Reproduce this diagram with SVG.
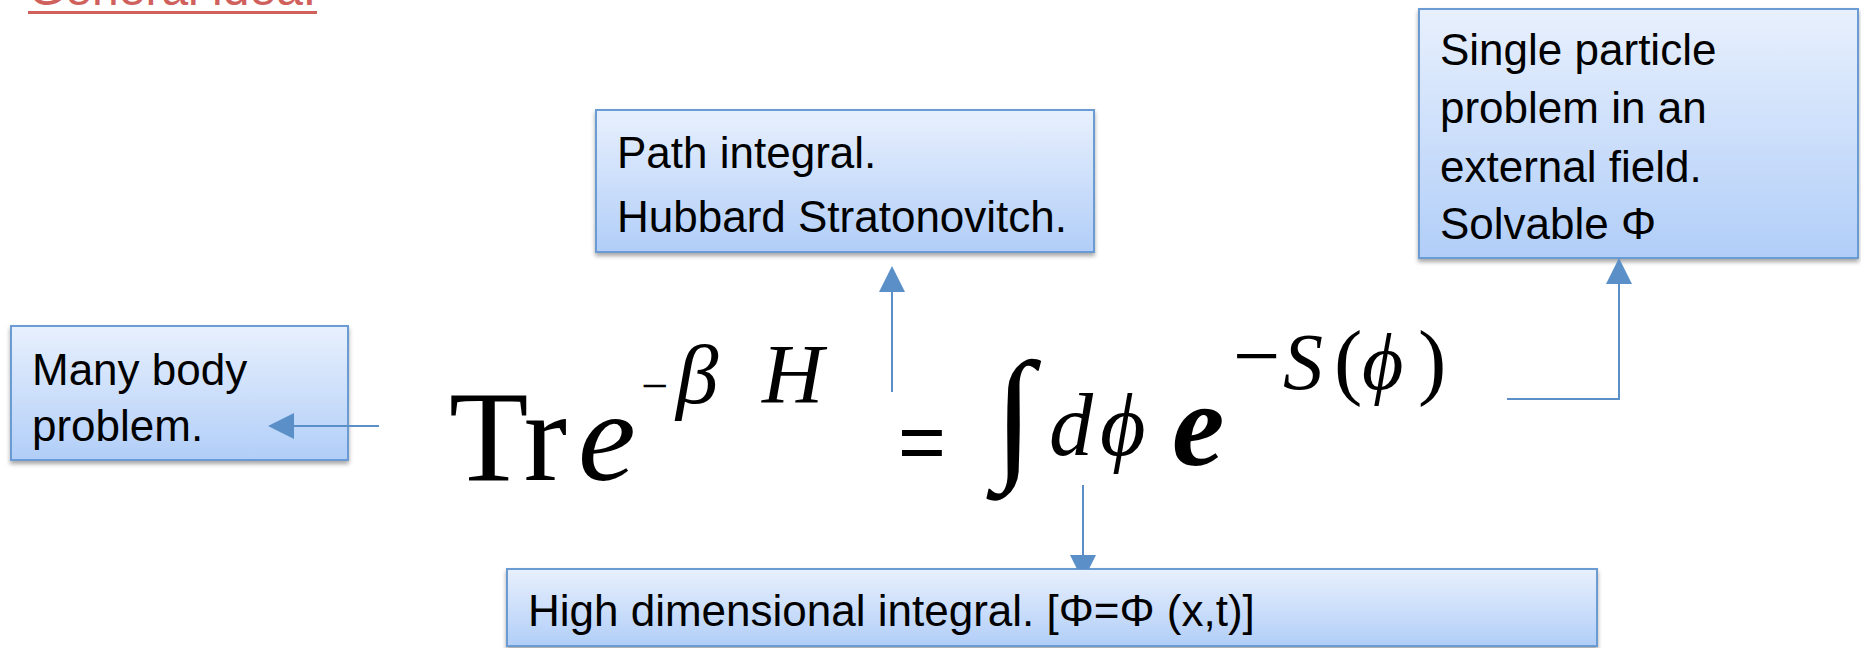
<svg xmlns="http://www.w3.org/2000/svg" width="1861" height="648" viewBox="0 0 1861 648">
<defs>
<linearGradient id="boxfill" x1="0" y1="0" x2="0" y2="1">
<stop offset="0" stop-color="#e8f0fd"/>
<stop offset="1" stop-color="#b1cef8"/>
</linearGradient>
<filter id="shadow" x="-5%" y="-10%" width="110%" height="130%">
<feDropShadow dx="0" dy="3" stdDeviation="2" flood-color="#000" flood-opacity="0.35"/>
</filter>
<marker id="head" viewBox="0 0 26 26" refX="0" refY="13" markerWidth="26" markerHeight="26" markerUnits="userSpaceOnUse" orient="auto">
<path d="M0,0 L26,13 L0,26 z" fill="#5b8fc8"/>
</marker>
<marker id="headcut" viewBox="0 0 26 26" refX="0" refY="13" markerWidth="26" markerHeight="26" markerUnits="userSpaceOnUse" orient="auto">
<path d="M0,0 L14,7 L14,19 L0,26 z" fill="#5b8fc8"/>
</marker>
</defs>
<style>
.box{fill:url(#boxfill);stroke:#6b9bd2;stroke-width:2;filter:url(#shadow)}
.lbl{font-family:"Liberation Sans",Arial,sans-serif;font-size:44px;fill:#000}
.conn{fill:none;stroke:#5b8fc8;stroke-width:2;marker-end:url(#head)}
.m{font-family:"Liberation Serif","Times New Roman",serif;fill:#000}
.i{font-style:italic}
</style>
<rect width="1861" height="648" fill="#fff"/>

<g id="title">
<text x="28" y="5" font-family="'Liberation Sans',Arial,sans-serif" font-size="48" fill="#d0605c">General idea:</text>
<rect x="28" y="11" width="289" height="3" fill="#d0605c"/>
</g>

<g id="formula">
<text class="m" x="449" y="480" font-size="130">Tr</text>
<text class="m i" x="578" y="480" font-size="130">e</text>
<text class="m" x="641" y="402" font-size="48">−</text>
<text class="m i" x="676" y="403" font-size="85">β</text>
<text class="m i" x="762" y="403" font-size="85">H</text>
<text x="898" y="470" font-size="82" font-family="'Liberation Sans',Arial,sans-serif">=</text>
<text class="m" x="994" y="462" font-size="145">∫</text>
<text class="m i" x="1049" y="455" font-size="88">d</text>
<text class="m i" x="1100" y="455" font-size="88">ϕ</text>
<text class="m i" x="1172" y="465" font-size="118" font-weight="bold">e</text>
<text class="m" x="1233" y="384" font-size="84">−</text>
<text class="m i" x="1283" y="389" font-size="80">S</text>
<text class="m" x="1334" y="389" font-size="85">(</text>
<text class="m i" x="1362" y="389" font-size="80">ϕ</text>
<text class="m" x="1418" y="389" font-size="85">)</text>
</g>

<g id="node-many-body">
<rect class="box" x="11" y="326" width="337" height="134"/>
<text class="lbl" x="32" y="385">Many body</text>
<text class="lbl" x="32" y="441">problem.</text>
</g>

<g id="node-path-integral">
<rect class="box" x="596" y="110" width="498" height="142"/>
<text class="lbl" x="617" y="168">Path integral.</text>
<text class="lbl" x="617" y="232">Hubbard Stratonovitch.</text>
</g>

<g id="node-single-particle">
<rect class="box" x="1419" y="9" width="439" height="249"/>
<text class="lbl" x="1440" y="65">Single particle</text>
<text class="lbl" x="1440" y="123">problem in an</text>
<text class="lbl" x="1440" y="182">external field.</text>
<text class="lbl" x="1440" y="239">Solvable Φ</text>
</g>

<g id="node-high-dim">
<rect class="box" x="507" y="569" width="1090" height="77"/>
<text class="lbl" x="528" y="626">High dimensional integral. [Φ=Φ (x,t)]</text>
</g>

<g id="connectors">
<path class="conn" d="M379,426 L294,426"/>
<path class="conn" d="M892,392 L892,292"/>
<path class="conn" d="M1507,399 L1619,399 L1619,284"/>
<path class="conn" d="M1083,485 L1083,555" style="marker-end:url(#headcut)"/>
</g>
</svg>
